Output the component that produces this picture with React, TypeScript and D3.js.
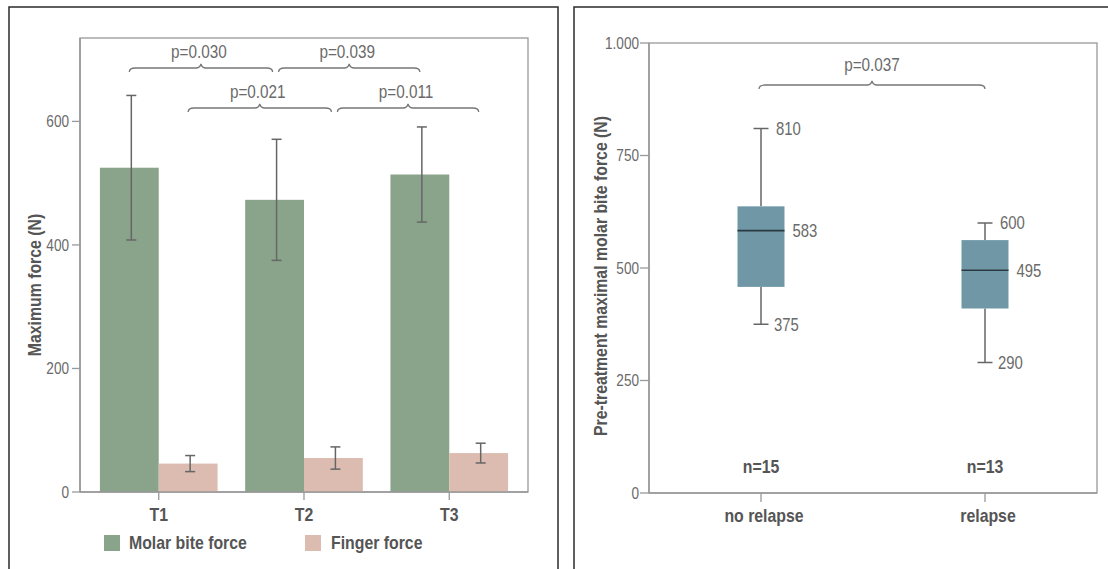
import * as d3 from 'd3';

// Left panel: mean ± SD of maximum force at each time point
const timePoints = ['T1', 'T2', 'T3'];
const seriesKeys = ['molar', 'finger'];
const seriesLabels = ['Molar bite force', 'Finger force'];
const molarMean = [525, 473, 514];
const molarSd = [117, 98, 77];
const fingerMean = [46, 55, 63];
const fingerSd = [13, 18, 16];
const leftTicks = [0, 200, 400, 600];

// p-value brackets: [from time, from series, to time, to series, label, row]
const leftBrackets: [string, string, string, string, string, number][] = [
  ['T1', 'molar', 'T2', 'molar', 'p=0.030', 0],
  ['T2', 'molar', 'T3', 'molar', 'p=0.039', 0],
  ['T1', 'finger', 'T2', 'finger', 'p=0.021', 1],
  ['T2', 'finger', 'T3', 'finger', 'p=0.011', 1],
];

// Right panel: box plot of pre-treatment molar bite force
const groups = ['no relapse', 'relapse'];
const groupN = ['n=15', 'n=13'];
const boxMin = [375, 290];
const boxQ1 = [458, 410];
const boxMedian = [583, 495];
const boxQ3 = [637, 562];
const boxMax = [810, 600];
const rightTicks = [0, 250, 500, 750, 1000];

const COLORS = { molar: '#89a48a', finger: '#dcbcb0', box: '#6f97a6' };
const FONT = '"Liberation Sans", Arial, sans-serif';
const GRID = '#999999';
const TEXT = '#6a6a6a';
const BOLD_TEXT = '#555555';

// the original uses a condensed face; squeeze Liberation Sans horizontally
const SX_REG = 0.85;
const SX_BOLD = 0.88;

const fmt = d3
  .formatLocale({ decimal: ',', thousands: '.', grouping: [3], currency: ['', ''] })
  .format(',');

interface TProps {
  x: number;
  y: number;
  size: number;
  bold?: boolean;
  anchor?: 'start' | 'middle' | 'end';
  rotate?: number;
  fill?: string;
  dy?: string;
  children: React.ReactNode;
}

/** Condensed text: real <text>, scaled on its own x axis */
function T({ x, y, size, bold, anchor = 'start', rotate = 0, fill, dy, children }: TProps) {
  const sx = bold ? SX_BOLD : SX_REG;
  return (
    <text
      transform={`translate(${x},${y}) rotate(${rotate}) scale(${sx},1)`}
      textAnchor={anchor}
      fontSize={size}
      fontWeight={bold ? 'bold' : 'normal'}
      fill={fill ?? (bold ? BOLD_TEXT : TEXT)}
      dy={dy}
    >
      {children}
    </text>
  );
}

/** Curly-brace style bracket with a small peak in the middle */
function bracketPath(x1: number, x2: number, y: number) {
  const mid = (x1 + x2) / 2;
  return [
    `M${x1},${y + 4}`,
    `Q${x1},${y} ${x1 + 6},${y}`,
    `L${mid - 5},${y}`,
    `Q${mid - 1},${y} ${mid},${y - 4}`,
    `Q${mid + 1},${y} ${mid + 5},${y}`,
    `L${x2 - 6},${y}`,
    `Q${x2},${y} ${x2},${y + 4}`,
  ].join(' ');
}

function LeftPanel() {
  const plot = { left: 80, right: 528, top: 38, bottom: 492 };
  const y = d3.scaleLinear().domain([0, 735]).range([plot.bottom, plot.top]);
  const x = d3
    .scaleBand()
    .domain(timePoints)
    .range([plot.left, plot.right])
    .paddingInner(0.19)
    .paddingOuter(0.137);
  const xs = d3.scaleBand().domain(seriesKeys).range([0, x.bandwidth()]);
  const center = (t: string, s: string) => (x(t) ?? 0) + (xs(s) ?? 0) + xs.bandwidth() / 2;
  const rowY = [68, 108];

  const bars = timePoints.flatMap((t, i) => [
    { t, s: 'molar', mean: molarMean[i], sd: molarSd[i] },
    { t, s: 'finger', mean: fingerMean[i], sd: fingerSd[i] },
  ]);

  return (
    <g>
      {/* panel frame */}
      <path d="M9,580 L9,7 L558,7 L558,580" fill="none" stroke="#2b2b2b" strokeWidth={1.5} />
      <rect
        x={plot.left}
        y={plot.top}
        width={plot.right - plot.left}
        height={plot.bottom - plot.top}
        fill="none"
        stroke={GRID}
        strokeWidth={1.3}
      />
      {bars.map(b => (
        <rect
          key={`${b.t}-${b.s}`}
          x={(x(b.t) ?? 0) + (xs(b.s) ?? 0)}
          y={y(b.mean)}
          width={xs.bandwidth()}
          height={y(0) - y(b.mean)}
          fill={b.s === 'molar' ? COLORS.molar : COLORS.finger}
        />
      ))}
      {bars.map(b => {
        const cx = center(b.t, b.s) + 2;
        return (
          <g key={`err-${b.t}-${b.s}`} stroke="#666" strokeWidth={1.5}>
            <line x1={cx} x2={cx} y1={y(b.mean + b.sd)} y2={y(b.mean - b.sd)} />
            <line x1={cx - 5} x2={cx + 5} y1={y(b.mean + b.sd)} y2={y(b.mean + b.sd)} />
            <line x1={cx - 5} x2={cx + 5} y1={y(b.mean - b.sd)} y2={y(b.mean - b.sd)} />
          </g>
        );
      })}
      {/* axes */}
      <line x1={plot.left} x2={plot.left} y1={plot.top} y2={plot.bottom} stroke={GRID} strokeWidth={1.5} />
      <line x1={plot.left} x2={plot.right} y1={plot.bottom} y2={plot.bottom} stroke={GRID} strokeWidth={1.5} />
      {leftTicks.map(v => (
        <g key={v}>
          <line x1={plot.left - 8} x2={plot.left} y1={y(v)} y2={y(v)} stroke={GRID} strokeWidth={1.3} />
          <T x={plot.left - 11} y={y(v)} dy="0.36em" anchor="end" size={16}>
            {v}
          </T>
        </g>
      ))}
      {timePoints.map(t => {
        const cx = (x(t) ?? 0) + x.bandwidth() / 2;
        return (
          <g key={t}>
            <line x1={cx} x2={cx} y1={plot.bottom} y2={plot.bottom + 8} stroke={GRID} strokeWidth={1.3} />
            <T x={cx} y={plot.bottom + 29} anchor="middle" size={18} bold>
              {t}
            </T>
          </g>
        );
      })}
      <T x={41} y={285} rotate={-90} anchor="middle" size={18} bold>
        Maximum force (N)
      </T>
      {/* brackets: adjacent ones are nudged apart a little */}
      {leftBrackets.map(([t1, s1, t2, s2, label, row], i) => {
        const sharedStart = i > 0 && leftBrackets[i - 1][5] === row;
        const sharedEnd = i < leftBrackets.length - 1 && leftBrackets[i + 1][5] === row;
        const x1 = center(t1, s1) + (sharedStart ? 4 : 0);
        const x2 = center(t2, s2) - (sharedEnd ? 2 : 0);
        const by = rowY[row];
        return (
          <g key={label}>
            <path d={bracketPath(x1, x2, by)} fill="none" stroke="#777" strokeWidth={1.3} />
            <T x={(x1 + x2) / 2 - 2} y={by - 10} anchor="middle" size={18}>
              {label}
            </T>
          </g>
        );
      })}
      {/* legend */}
      {seriesKeys.map((s, i) => (
        <g key={s}>
          <rect x={104 + i * 201} y={535} width={16} height={16} fill={s === 'molar' ? COLORS.molar : COLORS.finger} />
          <T x={129 + i * 202} y={549} size={18} bold>
            {seriesLabels[i]}
          </T>
        </g>
      ))}
    </g>
  );
}

function RightPanel() {
  const plot = { left: 649, right: 1097, top: 43, bottom: 493 };
  const y = d3.scaleLinear().domain([0, 1000]).range([plot.bottom, plot.top]);
  const x = d3.scaleBand().domain(groups).range([plot.left, plot.right]);
  const boxW = 47;
  const capW = 15;

  return (
    <g>
      <path d="M574,580 L574,7 L1120,7" fill="none" stroke="#2b2b2b" strokeWidth={1.5} />
      <rect
        x={plot.left}
        y={plot.top}
        width={plot.right - plot.left}
        height={plot.bottom - plot.top}
        fill="none"
        stroke={GRID}
        strokeWidth={1.3}
      />
      <line x1={plot.left} x2={plot.left} y1={plot.top} y2={plot.bottom} stroke={GRID} strokeWidth={1.5} />
      <line x1={plot.left} x2={plot.right} y1={plot.bottom} y2={plot.bottom} stroke={GRID} strokeWidth={1.5} />
      {rightTicks.map(v => (
        <g key={v}>
          <line x1={plot.left - 9} x2={plot.left} y1={y(v)} y2={y(v)} stroke={GRID} strokeWidth={1.3} />
          <T x={plot.left - 10} y={y(v)} dy="0.36em" anchor="end" size={16}>
            {fmt(v)}
          </T>
        </g>
      ))}
      {groups.map((g, i) => {
        const cx = (x(g) ?? 0) + x.bandwidth() / 2;
        return (
          <g key={g}>
            <line x1={cx} x2={cx} y1={plot.bottom} y2={plot.bottom + 9} stroke={GRID} strokeWidth={1.3} />
            <T x={cx + 3} y={plot.bottom + 29} anchor="middle" size={18} bold>
              {g}
            </T>
            <T x={cx} y={473} anchor="middle" size={18} bold>
              {groupN[i]}
            </T>
            {/* whiskers */}
            <g stroke="#666" strokeWidth={1.5}>
              <line x1={cx} x2={cx} y1={y(boxMax[i])} y2={y(boxQ3[i])} />
              <line x1={cx} x2={cx} y1={y(boxQ1[i])} y2={y(boxMin[i])} />
              <line x1={cx - capW / 2} x2={cx + capW / 2} y1={y(boxMax[i])} y2={y(boxMax[i])} />
              <line x1={cx - capW / 2} x2={cx + capW / 2} y1={y(boxMin[i])} y2={y(boxMin[i])} />
            </g>
            <rect
              x={cx - boxW / 2}
              y={y(boxQ3[i])}
              width={boxW}
              height={y(boxQ1[i]) - y(boxQ3[i])}
              fill={COLORS.box}
            />
            <line
              x1={cx - boxW / 2}
              x2={cx + boxW / 2}
              y1={y(boxMedian[i])}
              y2={y(boxMedian[i])}
              stroke="#2a3a40"
              strokeWidth={1.6}
            />
            <T x={cx + 15} y={y(boxMax[i])} dy="0.36em" size={17.5}>{boxMax[i]}</T>
            <T x={cx + boxW / 2 + 8} y={y(boxMedian[i])} dy="0.36em" size={17.5}>{boxMedian[i]}</T>
            <T x={cx + 13} y={y(boxMin[i])} dy="0.36em" size={17.5}>{boxMin[i]}</T>
          </g>
        );
      })}
      {(() => {
        const x1 = (x(groups[0]) ?? 0) + x.bandwidth() / 2 - 2;
        const x2 = (x(groups[1]) ?? 0) + x.bandwidth() / 2;
        return (
          <g>
            <path d={bracketPath(x1, x2, 85)} fill="none" stroke="#777" strokeWidth={1.3} />
            <T x={(x1 + x2) / 2} y={71} anchor="middle" size={18}>
              p=0.037
            </T>
          </g>
        );
      })()}
      <T x={607} y={276} rotate={-90} anchor="middle" size={18} bold>
        Pre-treatment maximal molar bite force (N)
      </T>
    </g>
  );
}

export default function App() {
  return (
    <svg
      width={1108}
      height={569}
      style={{ position: 'fixed', left: 0, top: 0, background: '#fff', fontFamily: FONT }}
    >
      <LeftPanel />
      <RightPanel />
    </svg>
  );
}
